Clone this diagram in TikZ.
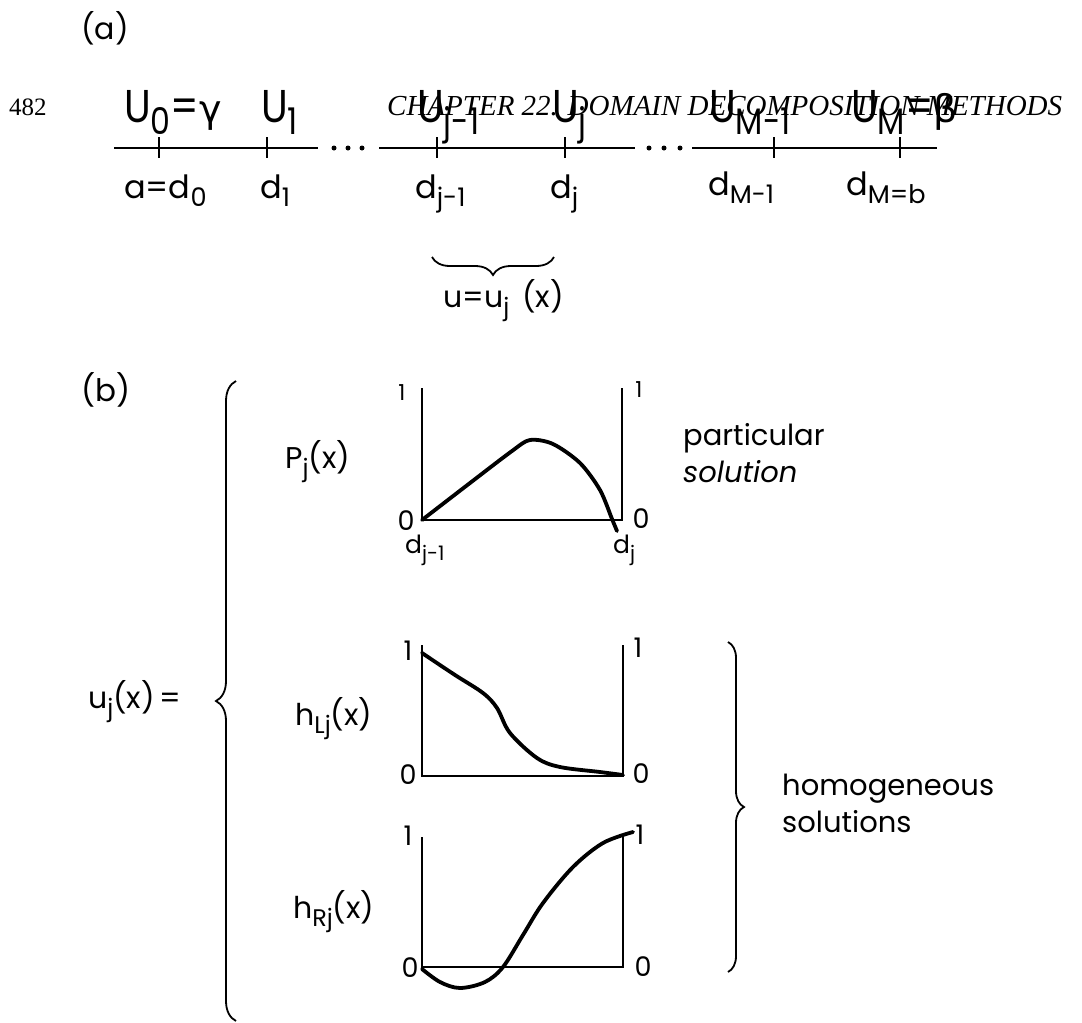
\documentclass[tikz,border=0pt]{standalone}
\usepackage{fontspec}
\setmainfont{Poppins}
\newfontfamily\narrowfont{Poppins}[FakeStretch=0.86]
\newfontfamily\hdrfont{Liberation Serif}
\newfontfamily\grkfont{DejaVu Sans}
\usetikzlibrary{decorations.pathreplacing}
\newcommand\sbs[1]{\raisebox{-0.28em}{\scalebox{0.8}{#1}}}
\begin{document}
\begin{tikzpicture}[x=1pt,y=-1pt,
  lbl/.style={font=\fontsize{30}{34}\selectfont, inner sep=0pt, anchor=base west},
  ulbl/.style={font=\narrowfont\fontsize{46}{50}\selectfont, inner sep=0pt, anchor=base west},
  dlbl/.style={font=\fontsize{32}{36}\selectfont, inner sep=0pt, anchor=base west},
  axlbl/.style={font=\fontsize{27}{30}\selectfont, inner sep=0pt},
  hdr/.style={font=\hdrfont\fontsize{25}{28}\selectfont, inner sep=0pt, anchor=base west},
  axisline/.style={line width=1.8pt},
  mainline/.style={line width=2.2pt},
  crv/.style={line width=3.8pt, line cap=round, line join=round},
  brc/.style={line width=1.8pt, decorate},
  dotmark/.style={circle, fill, inner sep=0pt, minimum size=5pt}
]
\fill[white] (0,0) rectangle (1082,1023);
\useasboundingbox (0,0) rectangle (1082,1023);

% ---------- (a) ----------
\node[lbl, anchor=center, font=\fontsize{30}{34}\selectfont] (la) at (105,28) {(a)};
\node[hdr, font=\hdrfont\fontsize{25}{28}\selectfont] (pg) at (9,115) {482};
\node[hdr, font=\hdrfont\itshape\fontsize{29}{32}\selectfont] (chap) at (387,115) {CHAPTER 22. DOMAIN DECOMPOSITION METHODS};

% axis line pieces
\coordinate (s1a) at (114,148); \coordinate (s1b) at (318,148);
\coordinate (s2a) at (379,148); \coordinate (s2b) at (635,148);
\coordinate (s3a) at (692,148); \coordinate (s3b) at (937,148);
\draw[mainline] (s1a) -- (s1b);
\draw[mainline] (s2a) -- (s2b);
\draw[mainline] (s3a) -- (s3b);
\node[dotmark] (dA1) at (334,148) {};
\node[dotmark] (dA2) at (348,148) {};
\node[dotmark] (dA3) at (362,148) {};
\node[dotmark] (dB1) at (649,148) {};
\node[dotmark] (dB2) at (664,148) {};
\node[dotmark] (dB3) at (680,148) {};
\foreach \t/\x in {t0/159,t1/267,tj1/437,tj/565,tM1/774,tM/900}{
  \coordinate (\t top) at (\x,137);
  \coordinate (\t bot) at (\x,158);
  \draw[mainline] (\t top) -- (\t bot);
}

% upper labels
\node[ulbl] (U0) at (124,122) {U\sbs{0}={\grkfont\fontsize{38}{40}\selectfont γ}};
\node[ulbl] (U1) at (261,122) {U\sbs{1}};
\node[ulbl] (Uj1) at (417,122) {U\sbs{j-1}};
\node[ulbl] (Uj) at (552,122) {U\sbs{j}};
\node[ulbl] (UM1) at (709,122) {U\sbs{M-1}};
\node[ulbl] (UM) at (851,122) {U\sbs{M}={\grkfont\fontsize{38}{40}\selectfont β}};

% lower labels
\node[dlbl] (d0) at (124,198) {a=d\sbs{0}};
\node[dlbl] (d1) at (260,198) {d\sbs{1}};
\node[dlbl] (dj1) at (415,198) {d\sbs{j-1}};
\node[dlbl] (dj) at (550,198) {d\sbs{j}};
\node[dlbl] (dM1) at (708,195) {d\sbs{M-1}};
\node[dlbl] (dM) at (846,195) {d\sbs{M=b}};

% brace under segment
\coordinate (bL) at (432,257);
\coordinate (bR) at (554,257);
\draw[brc, decoration={brace, mirror, amplitude=18pt}] (bL) -- (bR);
\node[lbl] (ueq) at (443,307) {u=u\sbs{j}\, (x)};

% ---------- (b) ----------
\node[lbl, anchor=center, font=\fontsize{31}{34}\selectfont] (lb) at (106,390) {(b)};
\node[lbl] (uj) at (88,708) {u\sbs{j}(x)\,=};

% big left brace
\coordinate (BLb) at (236,1021);
\coordinate (BLt) at (236,381);
\draw[brc, decoration={brace, amplitude=20pt}] (BLb) -- (BLt);

% right brace
\coordinate (BRt) at (728,642);
\coordinate (BRb) at (728,972);
\draw[brc, decoration={brace, amplitude=16pt}] (BRt) -- (BRb);

% plot 1 : particular
\coordinate (p1tl) at (422,388); \coordinate (p1bl) at (422,520);
\coordinate (p1br) at (622,520); \coordinate (p1tr) at (622,388);
\draw[axisline] (p1tl) -- (p1bl) -- (p1br) -- (p1tr);
\draw[crv] plot[smooth, tension=0.5] coordinates {(422,520) (470,483) (512,451) (530,440) (553,444) (580,463) (600,490) (612,519) (617,531)};
\node[lbl] (Pj) at (285,468) {P\sbs{j}(x)};
\node[axlbl, font=\fontsize{22}{24}\selectfont] (p1one) at (402,393) {1};
\node[axlbl, font=\fontsize{22}{24}\selectfont] (p1oner) at (639,390) {1};
\node[axlbl] (p1zl) at (406,521) {0};
\node[axlbl] (p1zr) at (641,519) {0};
\node[axlbl, anchor=base west, font=\fontsize{25}{27}\selectfont] (p1dl) at (405,553) {d\sbs{j-1}};
\node[axlbl, anchor=base west, font=\fontsize{25}{27}\selectfont] (p1dr) at (613,553) {d\sbs{j}};
\node[lbl, font=\fontsize{29}{32}\selectfont] (part) at (683,445) {particular};
\node[lbl, font=\fontsize{29}{32}\selectfont\itshape] (sol) at (683,482) {solution};

% plot 2 : h_Lj
\coordinate (p2tl) at (422,645); \coordinate (p2bl) at (422,776);
\coordinate (p2br) at (623,776); \coordinate (p2tr) at (623,645);
\draw[axisline] (p2tl) -- (p2bl) -- (p2br) -- (p2tr);
\draw[crv] plot[smooth, tension=0.55] coordinates {(422,653) (455,675) (483,693) (497,708) (510,733) (537,758) (560,767) (600,772) (623,775)};
\node[lbl] (hL) at (295,725) {h\sbs{Lj}(x)};
\node[axlbl] (p2one) at (408,651) {1};
\node[axlbl] (p2oner) at (638,648) {1};
\node[axlbl] (p2zl) at (408,775) {0};
\node[axlbl] (p2zr) at (641,774) {0};

% plot 3 : h_Rj
\coordinate (p3tl) at (422,837); \coordinate (p3bl) at (422,967);
\coordinate (p3br) at (623,967); \coordinate (p3tr) at (623,837);
\draw[axisline] (p3tl) -- (p3bl) -- (p3br) -- (p3tr);
\draw[crv] plot[smooth, tension=0.55] coordinates {(422,969) (440,982) (460,988) (485,982) (503,967) (523,935) (543,903) (573,867) (603,843) (633,832)};
\node[lbl] (hR) at (293,918) {h\sbs{Rj}(x)};
\node[axlbl] (p3one) at (408,836) {1};
\node[axlbl] (p3oner) at (640,835) {1};
\node[axlbl] (p3zl) at (410,968) {0};
\node[axlbl] (p3zr) at (643,967) {0};

\node[lbl, font=\fontsize{29}{32}\selectfont] (hom) at (782,795) {homogeneous};
\node[lbl, font=\fontsize{29}{32}\selectfont] (sols) at (782,832) {solutions};
\end{tikzpicture}
\end{document}
